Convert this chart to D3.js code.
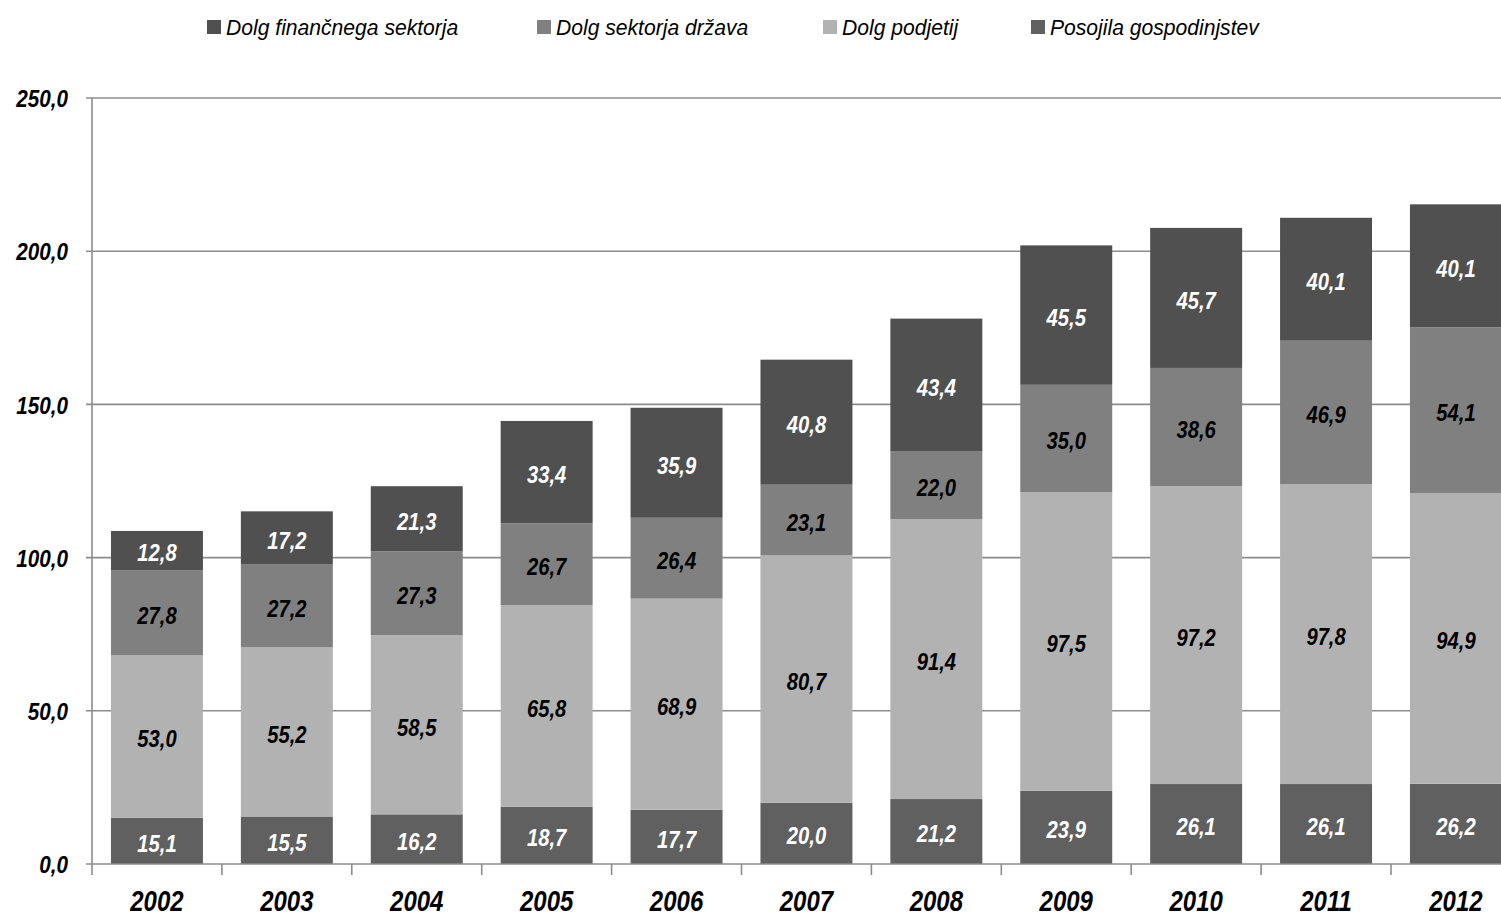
<!DOCTYPE html>
<html>
<head>
<meta charset="utf-8">
<script src="https://cdn.jsdelivr.net/npm/d3@7"></script>
<style>
  html, body { margin: 0; padding: 0; background: #fff; }
  svg { display: block; }
  text { font-family: "Liberation Sans Narrow", "Arial Narrow", "Liberation Sans", Arial, sans-serif; }
</style>
</head>
<body>
<svg id="chart" width="1501" height="918"></svg>
<script>
// Years on the category axis
const years = ["2002","2003","2004","2005","2006","2007","2008","2009","2010","2011","2012"];

// Stacked components, bottom to top (billion EUR)
const households = [15.1, 15.5, 16.2, 18.7, 17.7, 20.0, 21.2, 23.9, 26.1, 26.1, 26.2];
const companies  = [53.0, 55.2, 58.5, 65.8, 68.9, 80.7, 91.4, 97.5, 97.2, 97.8, 94.9];
const government = [27.8, 27.2, 27.3, 26.7, 26.4, 23.1, 22.0, 35.0, 38.6, 46.9, 54.1];
const financial  = [12.8, 17.2, 21.3, 33.4, 35.9, 40.8, 43.4, 45.5, 45.7, 40.1, 40.1];

const seriesNames = ["Posojila gospodinjstev", "Dolg podjetij", "Dolg sektorja država", "Dolg finančnega sektorja"];
const legendOrder = ["Dolg finančnega sektorja", "Dolg sektorja država", "Dolg podjetij", "Posojila gospodinjstev"];
const yTicks = [0, 50, 100, 150, 200, 250];

const seriesValues = [households, companies, government, financial];
const fills = { "Posojila gospodinjstev": "#606060", "Dolg podjetij": "#b2b2b2", "Dolg sektorja država": "#808080", "Dolg finančnega sektorja": "#505050" };
const labelColors = { "Posojila gospodinjstev": "#ffffff", "Dolg podjetij": "#000000", "Dolg sektorja država": "#000000", "Dolg finančnega sektorja": "#ffffff" };

const table = years.map((yr, i) => {
  const row = { year: yr };
  seriesNames.forEach((s, k) => row[s] = seriesValues[k][i]);
  return row;
});

const svg = d3.select("#chart");
const plotLeft = 92, plotBottom = 864, plotTop = 98;
const step = 129.9;
const x = d3.scaleBand().domain(years).range([plotLeft, plotLeft + step * years.length]).paddingInner(0.292).paddingOuter(0.146);
const y = d3.scaleLinear().domain([0, 250]).range([plotBottom, plotTop]);
const fmt = v => d3.format(".1f")(v).replace(".", ",");
const gridColor = "#8c8c8c";

// Condensed text: position by transform and squeeze horizontally
const place = (sx, fx, fy) => sel => sel.attr("transform", (d, i) => `translate(${fx(d, i)},${fy(d, i)}) scale(${sx},1)`);

// Horizontal gridlines with outer ticks
svg.append("g").selectAll("line").data(yTicks.filter(t => t > 0)).join("line")
  .attr("x1", plotLeft - 6).attr("x2", 1501)
  .attr("y1", d => y(d)).attr("y2", d => y(d))
  .attr("stroke", gridColor).attr("stroke-width", 1.6);

// Y tick labels
svg.append("g").selectAll("text").data(yTicks).join("text")
  .call(place(0.9, () => 68, d => y(d)))
  .attr("dy", "0.4em")
  .attr("text-anchor", "end")
  .attr("font-size", 23).attr("font-weight", "bold").attr("font-style", "italic")
  .attr("fill", "#000").text(d => fmt(d));

// Stacked bars
const stack = d3.stack().keys(seriesNames)(table);
const layers = svg.append("g").selectAll("g").data(stack).join("g")
  .attr("fill", d => fills[d.key]);
layers.selectAll("rect").data(d => d).join("rect")
  .attr("x", d => x(d.data.year))
  .attr("width", x.bandwidth())
  .attr("y", d => y(d[1]))
  .attr("height", d => y(d[0]) - y(d[1]));

// Value labels inside segments
const labels = svg.append("g");
stack.forEach(layer => {
  labels.selectAll(null).data(layer).join("text")
    .call(place(0.86, d => x(d.data.year) + x.bandwidth() / 2, d => (y(d[0]) + y(d[1])) / 2))
    .attr("dy", "0.46em")
    .attr("text-anchor", "middle")
    .attr("font-size", 23.5).attr("font-weight", "bold").attr("font-style", "italic")
    .attr("fill", labelColors[layer.key])
    .text(d => fmt(d[1] - d[0]));
});

// Axes lines
svg.append("line").attr("x1", plotLeft).attr("x2", plotLeft).attr("y1", plotTop).attr("y2", plotBottom)
  .attr("stroke", gridColor).attr("stroke-width", 1.6);
svg.append("line").attr("x1", plotLeft - 6).attr("x2", 1501).attr("y1", plotBottom).attr("y2", plotBottom)
  .attr("stroke", gridColor).attr("stroke-width", 1.6);

// Category boundary ticks
const boundaries = d3.range(years.length + 1).map(i => plotLeft + i * x.step());
svg.append("g").selectAll("line").data(boundaries).join("line")
  .attr("x1", d => d).attr("x2", d => d).attr("y1", plotBottom).attr("y2", plotBottom + 11)
  .attr("stroke", gridColor).attr("stroke-width", 1.6);

// Year labels
svg.append("g").selectAll("text").data(years).join("text")
  .call(place(0.8, d => x(d) + x.bandwidth() / 2, () => 911))
  .attr("text-anchor", "middle")
  .attr("font-size", 30).attr("font-weight", "bold").attr("font-style", "italic")
  .attr("fill", "#000").text(d => d);

// Legend
const legendX = [207, 537, 823, 1031];
const legend = svg.append("g").selectAll("g").data(legendOrder).join("g")
  .attr("transform", (d, i) => `translate(${legendX[i]},20)`);
legend.append("rect").attr("width", 14).attr("height", 14).attr("fill", d => fills[d]);
legend.append("text")
  .attr("transform", "translate(19,7) scale(0.96,1)")
  .attr("dy", "0.36em")
  .attr("font-size", 22).attr("font-style", "italic").attr("fill", "#000")
  .text(d => d);
</script>
</body>
</html>
